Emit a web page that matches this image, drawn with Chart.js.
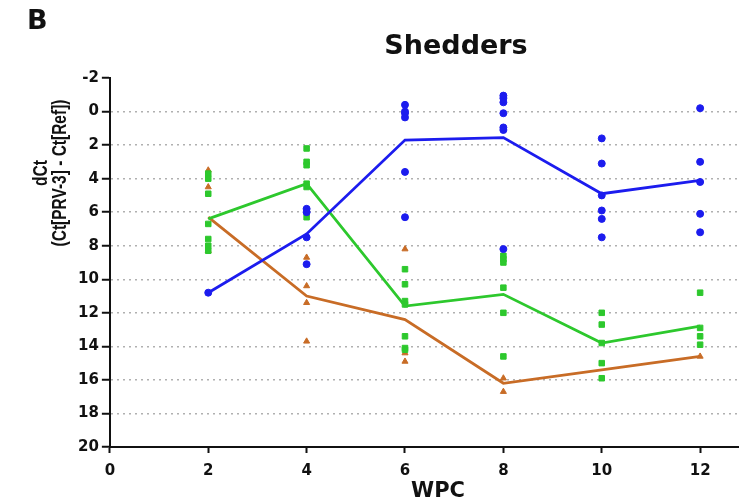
<!DOCTYPE html>
<html><head><meta charset="utf-8">
<script src="https://cdn.jsdelivr.net/npm/chart.js@4/dist/chart.umd.min.js"></script>
<style>
html,body{margin:0;padding:0;background:#fff;}
#wrap{position:relative;width:743px;height:502px;}
.t{position:absolute;color:#111;white-space:nowrap;}
#lbl{left:27px;top:4px;font:bold 27px "DejaVu Sans",sans-serif;}
#ttl{left:356px;width:200px;text-align:center;top:29px;font:bold 27px "DejaVu Sans",sans-serif;}
#xt{left:388px;width:100px;text-align:center;top:478px;font:bold 21px "DejaVu Sans",sans-serif;}
#yt{left:50px;top:173px;width:0;height:0;}
#yt div{position:absolute;transform:translate(-50%,-50%) rotate(-90deg) scaleY(1.3);text-align:center;font:bold 15.5px "Liberation Sans",Arial,sans-serif;line-height:14px;}
</style></head>
<body><div id="wrap">
<div id="lbl" class="t">B</div>
<div id="ttl" class="t">Shedders</div>
<div id="xt" class="t">WPC</div>
<div id="yt" class="t"><div>dCt<br>(Ct[PRV-3] - Ct[Ref])</div></div>
<canvas id="c" width="743" height="502"></canvas></div>
<script>
const wpc = [2, 4, 6, 8, 10, 12];
const xTicks = [0, 2, 4, 6, 8, 10, 12];
const yTicks = [-2, 0, 2, 4, 6, 8, 10, 12, 14, 16, 18, 20];
// means
const blueMean = [10.8, 7.3, 1.7, 1.55, 4.9, 4.1];
const greenMean = [6.4, 4.3, 11.6, 10.9, 13.8, 12.8];
const orangeMean = [6.3, 11.0, 12.4, 16.2, 15.4, 14.6];
// individual values per WPC
const blueX = [2, 4,4,4,4, 6,6,6,6,6,6, 8,8,8,8,8,8,8, 10,10,10,10,10,10, 12,12,12,12,12];
const blueY = [10.8, 5.8,6.0,7.5,9.1, -0.4,0.0,0.1,0.35,3.6,6.3, -0.95,-0.8,-0.55,0.1,0.95,1.1,8.2, 1.6,3.1,5.0,5.9,6.4,7.5, -0.2,3.0,4.2,6.1,7.2];
const greenX = [2,2,2,2,2,2,2, 4,4,4,4,4,4,4, 6,6,6,6,6,6,6, 8,8,8,8,8,8, 10,10,10,10,10, 12,12,12,12];
const greenY = [3.7,4.0,4.9,6.7,7.6,8.0,8.3, 2.2,3.0,3.2,4.3,4.5,5.9,6.3, 9.4,10.3,11.3,11.5,13.4,14.1,14.2, 8.6,8.8,9.0,10.5,12.0,14.6, 12.0,12.7,13.8,15.0,15.9, 10.8,12.9,13.4,13.9];
const orangeX = [2,2,2, 4,4,4,4, 6,6,6, 8,8, 12];
const orangeY = [3.5,4.5,8.3, 8.7,10.4,11.4,13.7, 8.2,14.4,14.9, 15.9,16.7, 14.6];

const BLUE='rgb(28,28,238)', GREEN='rgb(45,200,45)', ORANGE='rgb(200,108,38)';
const pts=(xs,ys)=>xs.map((x,i)=>({x:x,y:ys[i]}));
const line=(ys)=>wpc.map((x,i)=>({x:x,y:ys[i]}));
const F='"DejaVu Sans",sans-serif';

new Chart(document.getElementById('c'),{
  type:'scatter',
  data:{datasets:[
    {data:pts(blueX,blueY),pointStyle:'circle',pointRadius:3.5,backgroundColor:BLUE,borderColor:BLUE,showLine:false},
    {data:pts(greenX,greenY),pointStyle:'rect',pointRadius:3.9,backgroundColor:GREEN,borderColor:GREEN,showLine:false},
    {data:pts(orangeX,orangeY),pointStyle:'triangle',pointRadius:3.5,backgroundColor:ORANGE,borderColor:ORANGE,showLine:false},
    {data:line(blueMean),showLine:true,borderColor:BLUE,borderWidth:2.8,pointRadius:0,fill:false},
    {data:line(greenMean),showLine:true,borderColor:GREEN,borderWidth:2.8,pointRadius:0,fill:false},
    {data:line(orangeMean),showLine:true,borderColor:ORANGE,borderWidth:2.8,pointRadius:0,fill:false}
  ]},
  options:{
    responsive:false,animation:false,
    layout:{padding:{left:75,right:0,top:78,bottom:13}},
    plugins:{legend:{display:false},tooltip:{enabled:false},title:{display:false}},
    scales:{
      x:{type:'linear',min:0,max:12.77,
        afterBuildTicks:(ax)=>{ax.ticks=xTicks.map(v=>({value:v}));},
        ticks:{color:'#111',font:{family:F,size:15,weight:'bold'},padding:9,maxRotation:0},
        grid:{drawOnChartArea:false,drawTicks:true,tickLength:6,tickColor:'#111',tickWidth:2},
        border:{color:'#111',width:2}},
      y:{type:'linear',min:-2,max:20,reverse:true,
        afterBuildTicks:(ax)=>{ax.ticks=yTicks.map(v=>({value:v}));},
        ticks:{color:'#111',font:{family:F,size:15,weight:'bold'},padding:3},
        grid:{color:(c)=>(c.tick&&(c.tick.value===-2||c.tick.value===20))?'rgba(0,0,0,0)':'#b0b0b0',
          lineWidth:1.5,drawTicks:true,tickLength:8,tickColor:'#111',tickWidth:2,tickBorderDash:[]},
        border:{color:'#111',width:2,dash:[2,4]}}
    }
  }
});
</script></body></html>
